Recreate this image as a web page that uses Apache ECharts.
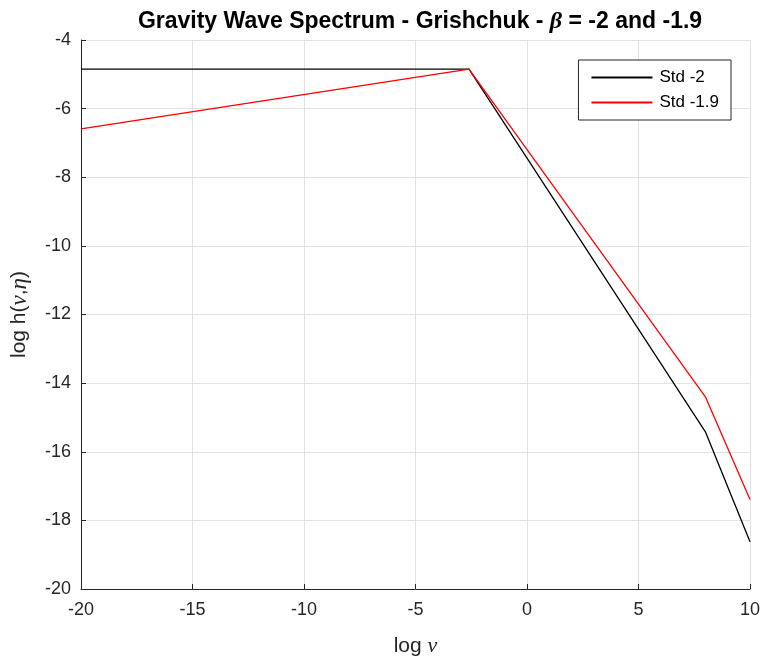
<!DOCTYPE html>
<html><head><meta charset="utf-8">
<script src="https://cdn.jsdelivr.net/npm/echarts@6/dist/echarts.min.js"></script>
<style>html,body{margin:0;padding:0;background:#fff}#c{width:761px;height:658px}</style>
</head><body><div id="c"></div>
<script>
const xs = [-20, -2.6, 8, 10];
const std2 = [-4.85, -4.85, -15.42, -18.62];
const std19 = [-6.59, -4.85, -14.40, -17.39];
const seriesNames = ['Std -2', 'Std -1.9'];
const xTicks = [-20, -15, -10, -5, 0, 5, 10];
const yTicks = [-20, -18, -16, -14, -12, -10, -8, -6, -4];

const chart = echarts.init(document.getElementById('c'));
const F = 'Liberation Sans, Arial, sans-serif';
const S = 'Liberation Serif, DejaVu Serif, serif';
const AX = '#262626';
chart.setOption({
  animation: false,
  title: {
    text: '{b|Gravity Wave Spectrum - Grishchuk - }{g|β}{b| = -2 and -1.9}',
    left: 415, top: 5, textAlign: 'center',
    textStyle: { rich: {
      b: { fontFamily: F, fontWeight: 'bold', fontSize: 23, color: '#000' },
      g: { fontFamily: S, fontStyle: 'italic', fontSize: 24, color: '#000' }
    } }
  },
  legend: {
    orient: 'vertical', right: 30, top: 60,
    itemWidth: 61, itemHeight: 2, itemGap: 8,
    padding: [9, 12, 9, 13],
    borderColor: AX, borderWidth: 1, borderRadius: 0,
    backgroundColor: '#fff',
    icon: 'rect',
    textStyle: { fontFamily: F, fontSize: 17, color: '#000', padding: [0, 0, 0, 2] },
    data: seriesNames
  },
  grid: { left: 81, right: 11, top: 40, bottom: 69, containLabel: false, outerBoundsMode: 'none' },
  xAxis: {
    type: 'value', min: -20, max: 10, interval: 5,
    name: '{t|log }{g|ν}', nameLocation: 'middle', nameGap: 46,
    nameTextStyle: { rich: {
      t: { fontFamily: F, fontSize: 21, color: AX },
      g: { fontFamily: S, fontStyle: 'italic', fontSize: 22, color: AX }
    } },
    axisLine: { show: true, onZero: false, lineStyle: { color: AX, width: 1 } },
    axisTick: { show: true, inside: true, length: 5, lineStyle: { color: AX } },
    axisLabel: { fontFamily: F, fontSize: 18, color: AX, margin: 12,
      formatter: v => xTicks.includes(v) ? String(v) : '' },
    splitLine: { show: true, lineStyle: { color: '#e3e3e3', width: 1 } }
  },
  yAxis: {
    type: 'value', min: -20, max: -4, interval: 2,
    name: '{t|log h(}{g|ν}{t|,}{g|η}{t|)}', nameLocation: 'middle', nameGap: 50,
    nameTextStyle: { rich: {
      t: { fontFamily: F, fontSize: 21, color: AX },
      g: { fontFamily: S, fontStyle: 'italic', fontSize: 23, color: AX }
    } },
    axisLine: { show: true, onZero: false, lineStyle: { color: AX, width: 1 } },
    axisTick: { show: true, inside: true, length: 5, lineStyle: { color: AX } },
    axisLabel: { fontFamily: F, fontSize: 18, color: AX, margin: 10,
      formatter: v => yTicks.includes(v) ? String(v) : '' },
    splitLine: { show: true, lineStyle: { color: '#e3e3e3', width: 1 } }
  },
  series: [
    { name: seriesNames[0], type: 'line', symbol: 'none', color: '#000',
      lineStyle: { color: '#000', width: 1.3 },
      data: xs.map((x, i) => [x, std2[i]]) },
    { name: seriesNames[1], type: 'line', symbol: 'none', color: '#ff0000',
      lineStyle: { color: '#ff0000', width: 1.3 },
      data: xs.map((x, i) => [x, std19[i]]) }
  ]
});
</script></body></html>
